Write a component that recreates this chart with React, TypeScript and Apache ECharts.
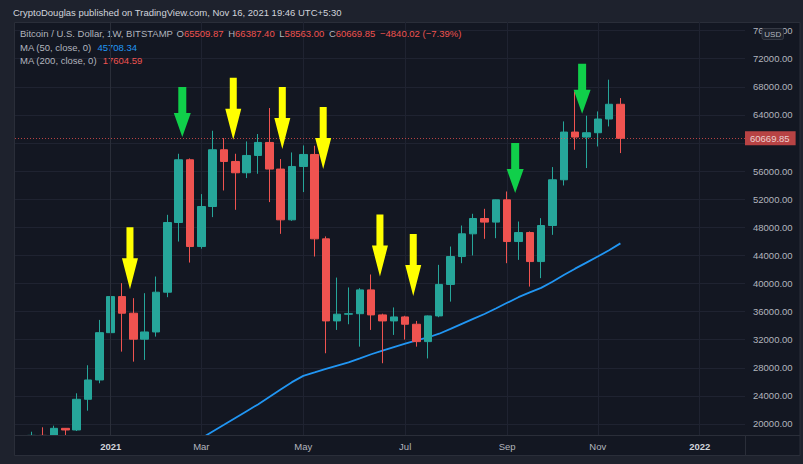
import React, { useEffect, useRef } from 'react';
import * as echarts from 'echarts';

// ---- data (weekly candles, Bitstamp BTC/USD) ----
const weeks = [
  '2020-11-16', '2020-11-23', '2020-11-30', '2020-12-07', '2020-12-14', '2020-12-21', '2020-12-28',
  '2021-01-04', '2021-01-11', '2021-01-18', '2021-01-25', '2021-02-01', '2021-02-08', '2021-02-15',
  '2021-02-22', '2021-03-01', '2021-03-08', '2021-03-15', '2021-03-22', '2021-03-29', '2021-04-05',
  '2021-04-12', '2021-04-19', '2021-04-26', '2021-05-03', '2021-05-10', '2021-05-17', '2021-05-24',
  '2021-05-31', '2021-06-07', '2021-06-14', '2021-06-21', '2021-06-28', '2021-07-05', '2021-07-12',
  '2021-07-19', '2021-07-26', '2021-08-02', '2021-08-09', '2021-08-16', '2021-08-23', '2021-08-30',
  '2021-09-06', '2021-09-13', '2021-09-20', '2021-09-27', '2021-10-04', '2021-10-11', '2021-10-18',
  '2021-10-25', '2021-11-01', '2021-11-08', '2021-11-15',
];
const opens = [
  15960, 18380, 18180, 19384, 19150, 23518, 26267,
  33000, 38135, 35770, 32070, 33100, 38760, 48680,
  57610, 45260, 50957, 59035, 57370, 55758, 58223,
  60075, 56286, 49062, 56657, 58365, 46355, 34673,
  35630, 35700, 39090, 35530, 34670, 35240, 34200,
  31725, 35385, 39865, 43835, 47070, 49250, 48735,
  51910, 45970, 47250, 43120, 48250, 54760, 61556,
  60840, 61460, 63410, 65509.87,
];
const highs = [
  18900, 19530, 19760, 19420, 24370, 28360, 34815,
  42040, 40045, 37910, 38620, 40990, 49775, 58465,
  57800, 52724, 61742, 60700, 58465, 60218, 61272,
  64976, 57710, 58650, 59648, 59605, 46700, 40843,
  39440, 39330, 41280, 35700, 36590, 35400, 34670,
  35450, 42650, 45260, 48250, 49920, 50630, 51950,
  53095, 48820, 47400, 49300, 56570, 63070, 67340,
  63880, 64490, 69010, 66387.40,
];
const lows = [
  15800, 16300, 17900, 17600, 19000, 21895, 25800,
  27690, 30300, 28875, 29120, 32440, 38050, 45970,
  42980, 44950, 49447, 53240, 50487, 55003, 55616,
  51584, 47068, 48920, 53010, 43835, 30070, 33390,
  34200, 31010, 33390, 28650, 32680, 32010, 31010,
  29330, 35200, 37420, 42890, 43990, 46355, 46450,
  42890, 43360, 39560, 40760, 46925, 53950, 59035,
  56430, 59505, 62355, 58563.00,
];
const closes = [
  18380, 18180, 19384, 19150, 23518, 26267, 33000,
  38135, 35770, 32070, 33100, 38760, 48680, 57610,
  45260, 50957, 59035, 57370, 55758, 58223, 60075,
  56286, 49062, 56657, 58365, 46355, 34673, 35630,
  35700, 39090, 35530, 34670, 35240, 34200, 31725,
  35385, 39865, 43835, 47070, 49250, 48735, 51910,
  45970, 47250, 43120, 48250, 54760, 61556, 60840,
  61460, 63410, 65509.87, 60669.85,
];
// MA (50, close) – only the part that enters the visible price range
const ma50Weeks = [
  '2021-03-01', '2021-03-08', '2021-03-15', '2021-03-22', '2021-03-29', '2021-04-05', '2021-04-12',
  '2021-04-19', '2021-04-26', '2021-05-03', '2021-05-10', '2021-05-17', '2021-05-24', '2021-05-31',
  '2021-06-07', '2021-06-14', '2021-06-21', '2021-06-28', '2021-07-05', '2021-07-12', '2021-07-19',
  '2021-07-26', '2021-08-02', '2021-08-09', '2021-08-16', '2021-08-23', '2021-08-30', '2021-09-06',
  '2021-09-13', '2021-09-20', '2021-09-27', '2021-10-04', '2021-10-11', '2021-10-18', '2021-10-25',
  '2021-11-01', '2021-11-08', '2021-11-15',
];
const ma50 = [
  17960, 18930, 19885, 20853, 21822, 22790, 23845,
  24900, 25955, 26850, 27335, 27834, 28310, 28770,
  29340, 29930, 30440, 30940, 31440, 31910, 32315,
  32850, 33550, 34260, 34960, 35660, 36440, 37250,
  38050, 38735, 39375, 40245, 41215, 42110, 42965,
  43835, 44730, 45708.34,
];
const ma200Last = 17604.59;

// axis ticks
const xTickDates = ['2021-01-04', '2021-03-01', '2021-05-03', '2021-07-05', '2021-09-06', '2021-11-01', '2022-01-03'];
const xTickNames = ['2021', 'Mar', 'May', 'Jul', 'Sep', 'Nov', '2022'];
const yTicks = [20000, 24000, 28000, 32000, 36000, 40000, 44000, 48000, 52000, 56000, 60000, 64000, 68000, 72000, 76000];

// annotation arrows (x in weeks from 2021-01-04, tip price)
const arrowWeekPos = [1.70, 6.32, 10.82, 15.15, 18.76, 23.77, 26.71, 35.71, 41.62];
const arrowTipPrice = [39190, 60845, 60460, 59135, 56285, 40985, 38235, 52865, 64165];
const arrowKinds = ['y', 'g', 'y', 'y', 'y', 'y', 'y', 'g', 'g'];

const headerTitle = 'CryptoDouglas published on TradingView.com, Nov 16, 2021 19:46 UTC+5:30';
const symbolTitle = 'Bitcoin / U.S. Dollar, 1W, BITSTAMP';

const FONT = '"Liberation Sans", Arial, sans-serif';
const BASE = Date.parse('2021-01-04');
const weekPos = (d: string) => Math.round((Date.parse(d) - BASE) / 864e5) / 7;

export default function App() {
  const ref = useRef<HTMLDivElement>(null);
  useEffect(() => {
    if (!ref.current) return;
    const chart = echarts.init(ref.current, undefined, { renderer: 'svg' });

    const candleData = weeks.map((w, i) => [weekPos(w), opens[i], closes[i], lows[i], highs[i]]);
    const maData = ma50Weeks.map((w, i) => [weekPos(w), ma50[i]]);
    const xTickPos = xTickDates.map(weekPos);
    const n = closes.length - 1;
    const lo = opens[n], lh = highs[n], ll = lows[n], lc = closes[n];
    const chg = lc - lo;
    const pct = (chg / lo) * 100;
    const sgn = (v: number) => (v < 0 ? '\u2212' : '+');
    const chgText = `${sgn(chg)}${Math.abs(chg).toFixed(2)} (${sgn(pct)}${Math.abs(pct).toFixed(2)}%)`;
    // the price tag hides the tick label it sits on
    const yLabelTicks = yTicks.filter((v) => Math.abs(v - lc) > 1500);

    const yellowPath = 'path://M4.5,0L11.5,0L11.5,31L16,31L8,62L0,31L4.5,31Z';
    const greenPath = 'path://M4.5,0L12.5,0L12.5,26L17,26L8.5,50L0,26L4.5,26Z';

    const gridColor = '#1f2331';
    const borderColor = '#2a2e39';
    const labelColor = '#b2b5be';
    const bg = '#131722';

    const option: any = {
      animation: false,
      backgroundColor: 'transparent',
      textStyle: { fontFamily: FONT },
      grid: { left: 15, right: 58, top: 22, bottom: 29, containLabel: false, outerBoundsMode: 'none' },
      xAxis: {
        type: 'value',
        min: -8.45,
        max: 56,
        z: 20,
        axisLine: { show: true, lineStyle: { color: borderColor } },
        axisTick: { show: false },
        splitLine: { show: false },
        axisLabel: {
          customValues: xTickPos,
          margin: 6,
          fontSize: 9.5,
          fontFamily: FONT,
          color: labelColor,
          formatter: (v: number) => {
            const i = xTickPos.findIndex((p) => Math.abs(p - v) < 1e-6);
            const name = i >= 0 ? xTickNames[i] : '';
            return /^\d{4}$/.test(name) ? `{y|${name}}` : name;
          },
          rich: { y: { fontWeight: 'bold', color: '#d1d4dc', fontSize: 9.5, fontFamily: FONT } },
        },
      },
      yAxis: {
        type: 'value',
        position: 'right',
        min: 18434,
        max: 77220,
        z: 20,
        axisLine: { show: true, lineStyle: { color: borderColor } },
        axisTick: { show: false },
        splitLine: { show: false },
        axisLabel: {
          customValues: yLabelTicks,
          margin: 8,
          fontSize: 9.5,
          fontFamily: FONT,
          color: labelColor,
          formatter: (v: number) => v.toFixed(2),
        },
      },
      series: [
        {
          type: 'line',
          data: maData,
          showSymbol: false,
          symbol: 'none',
          silent: true,
          z: 3,
          lineStyle: { color: '#2196f3', width: 1.8 },
          markLine: {
            z: 1,
            silent: true,
            symbol: ['none', 'none'],
            label: { show: false },
            emphasis: { disabled: true },
            lineStyle: { color: gridColor, width: 1, type: 'solid' },
            data: [...yTicks.map((v) => ({ yAxis: v })), ...xTickPos.map((v) => ({ xAxis: v }))],
          },
        },
        {
          type: 'candlestick',
          data: candleData,
          barWidth: 8,
          z: 4,
          silent: true,
          itemStyle: {
            color: '#26a69a',
            color0: '#ef5350',
            borderColor: '#26a69a',
            borderColor0: '#ef5350',
            borderWidth: 1,
          },
          markLine: {
            z: 5,
            silent: true,
            symbol: ['none', 'none'],
            emphasis: { disabled: true },
            lineStyle: { color: '#ef5350', width: 1, type: [1, 2], opacity: 0.75 },
            label: {
              show: true,
              position: 'end',
              distance: 0,
              formatter: lc.toFixed(2),
              color: '#ffffff',
              backgroundColor: '#f05350',
              padding: [2, 6, 2, 5],
              fontSize: 9.5,
              fontFamily: FONT,
            },
            data: [{ yAxis: lc }],
          },
          markPoint: {
            z: 6,
            silent: true,
            label: { show: false },
            emphasis: { disabled: true },
            data: arrowWeekPos.map((x, i) => ({
              coord: [x, arrowTipPrice[i]],
              symbol: arrowKinds[i] === 'y' ? yellowPath : greenPath,
              symbolSize: arrowKinds[i] === 'y' ? [16, 62] : [17, 50],
              symbolOffset: [0, '-50%'],
              itemStyle: { color: arrowKinds[i] === 'y' ? '#ffff00' : '#10cf4a' },
            })),
          },
        },
      ],
      graphic: [
        {
          type: 'rect',
          z: -10,
          silent: true,
          shape: { x: 14.5, y: 22.5, width: 785.5, height: 433 },
          style: { fill: bg, stroke: borderColor, lineWidth: 1 },
        },
        // time-scale strip: candles are not cut at the pane bottom, so cover below it
        {
          type: 'rect',
          z: 15,
          silent: true,
          shape: { x: 15, y: 435.5, width: 730, height: 19 },
          style: { fill: bg },
        },
        { type: 'line', z: 16, silent: true, shape: { x1: 745.5, y1: 435, x2: 745.5, y2: 455 }, style: { stroke: borderColor, lineWidth: 1 } },
        { type: 'line', z: 16, silent: true, shape: { x1: 745, y1: 435.5, x2: 800, y2: 435.5 }, style: { stroke: borderColor, lineWidth: 1 } },
        {
          type: 'text',
          z: 10,
          silent: true,
          x: 13,
          y: 12,
          style: { text: headerTitle, fill: '#d1d4dc', font: `9.5px ${FONT}`, verticalAlign: 'middle' },
        },
        {
          type: 'text',
          z: 10,
          silent: true,
          x: 20,
          y: 33.7,
          style: {
            text: `{t|${symbolTitle}} {k0|O}{r|${lo.toFixed(2)}} {k|H}{r|${lh.toFixed(2)}} {k|L}{r|${ll.toFixed(2)}} {k|C}{r|${lc.toFixed(2)}} {c|${chgText}}`,
            verticalAlign: 'middle',
            font: `9.5px ${FONT}`,
            rich: {
              t: { fill: '#b2b5be', font: `9.5px ${FONT}` },
              k0: { fill: '#b2b5be', font: `9.5px ${FONT}`, padding: [0, 0, 0, 1] },
              k: { fill: '#b2b5be', font: `9.5px ${FONT}`, padding: [0, 0, 0, 2] },
              r: { fill: '#ef5350', font: `9.5px ${FONT}` },
              c: { fill: '#ef5350', font: `9.5px ${FONT}`, padding: [0, 0, 0, 2] },
            },
          },
        },
        {
          type: 'text',
          z: 10,
          silent: true,
          x: 20,
          y: 47.3,
          style: {
            text: `{t|MA (50, close, 0)} {b|${ma50[ma50.length - 1].toFixed(2)}}`,
            verticalAlign: 'middle',
            font: `9.5px ${FONT}`,
            rich: {
              t: { fill: '#b2b5be', font: `9.5px ${FONT}` },
              b: { fill: '#2196f3', font: `9.5px ${FONT}`, padding: [0, 0, 0, 3] },
            },
          },
        },
        {
          type: 'text',
          z: 10,
          silent: true,
          x: 20,
          y: 60.7,
          style: {
            text: `{t|MA (200, close, 0)} {r|${ma200Last.toFixed(2)}}`,
            verticalAlign: 'middle',
            font: `9.5px ${FONT}`,
            rich: {
              t: { fill: '#b2b5be', font: `9.5px ${FONT}` },
              r: { fill: '#ef5350', font: `9.5px ${FONT}`, padding: [0, 0, 0, 3] },
            },
          },
        },
        {
          type: 'group',
          z: 25,
          silent: true,
          x: 762,
          y: 28.5,
          children: [
            {
              type: 'rect',
              z: 25,
              shape: { x: 0, y: 0, width: 21.5, height: 11, r: 2 },
              style: { fill: '#1e222d', stroke: '#363a45', lineWidth: 1 },
            },
            {
              type: 'text',
              z: 26,
              x: 10.75,
              y: 5.7,
              style: { text: 'USD', fill: '#b2b5be', font: `8px ${FONT}`, align: 'center', verticalAlign: 'middle' },
            },
          ],
        },
      ],
    };

    chart.setOption(option);
    return () => chart.dispose();
  }, []);

  return (
    <div
      ref={ref}
      style={{ position: 'fixed', left: 0, top: 0, width: 803, height: 464, background: '#1e222d' }}
    />
  );
}
